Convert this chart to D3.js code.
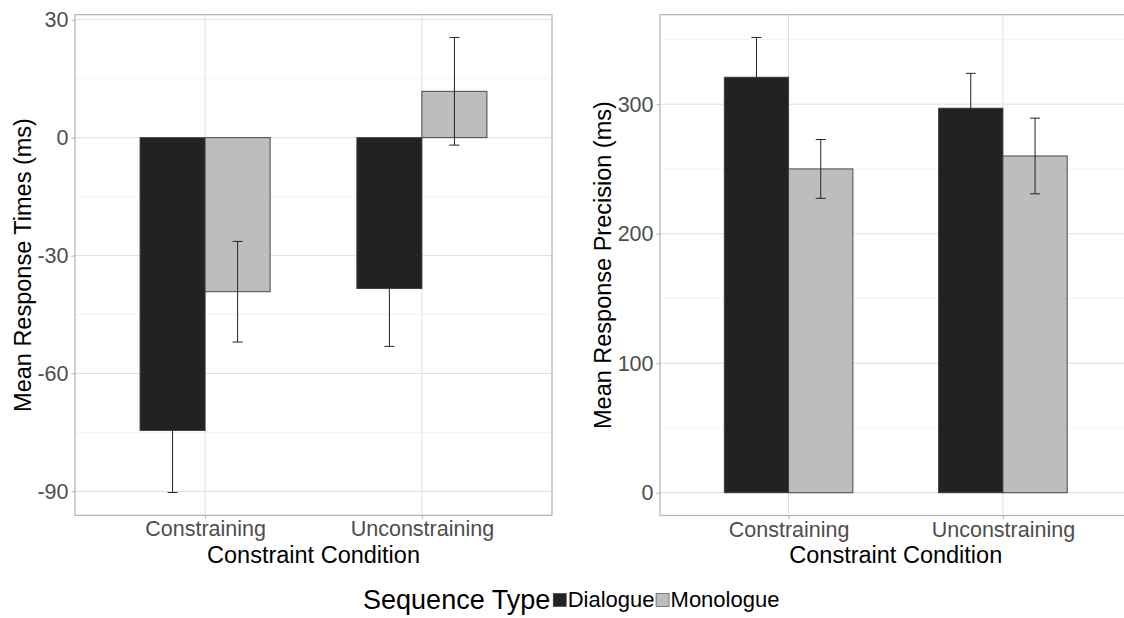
<!DOCTYPE html>
<html>
<head>
<meta charset="utf-8">
<script src="https://cdn.jsdelivr.net/npm/d3@7"></script>
<style>
  html, body { margin: 0; padding: 0; background: #ffffff; }
  svg { display: block; font-family: "Liberation Sans", Arial, Helvetica, sans-serif; }
</style>
</head>
<body>
<svg id="chart" width="1124" height="618"></svg>
<script>
// ---- data ----
const categories = ["Constraining", "Unconstraining"];
const seriesNames = ["Dialogue", "Monologue"];
const seriesColors = ["#222222", "#bdbdbd"];

// Left panel: Mean Response Times (ms)
const rtDialogue = [-74.5, -38.4];
const rtDialogueErr = [15.8, 14.7];
const rtMonologue = [-39.2, 11.8];
const rtMonologueErr = [12.8, 13.7];
const rtTicks = [-90, -60, -30, 0, 30];
const rtMinorTicks = [-75, -45, -15, 15];

// Right panel: Mean Response Precision (ms)
const precDialogue = [320.8, 296.9];
const precDialogueErr = [30.7, 26.9];
const precMonologue = [250.0, 260.0];
const precMonologueErr = [22.7, 29.2];
const precTicks = [0, 100, 200, 300];
const precMinorTicks = [50, 150, 250, 350];

const xTitle = "Constraint Condition";
const legendTitle = "Sequence Type";

// ---- drawing ----
const svg = d3.select("#chart");

function buildRows(dMeans, dErr, mMeans, mErr) {
  const rows = [];
  categories.forEach((c, i) => {
    rows.push({cat: c, series: seriesNames[0], value: dMeans[i], err: dErr[i]});
    rows.push({cat: c, series: seriesNames[1], value: mMeans[i], err: mErr[i]});
  });
  return rows;
}

function drawPanel(opts) {
  const {left, right, top, bottom, rows, ticks, minor, yTitle, yTitleX} = opts;
  const lo = d3.min(rows, r => Math.min(0, r.value - r.err));
  const hi = d3.max(rows, r => Math.max(0, r.value + r.err));
  const pad = (hi - lo) * 0.05;
  const y = d3.scaleLinear().domain([lo - pad, hi + pad]).range([bottom, top]);
  const x = d3.scalePoint().domain(categories).range([left, right]).padding(0.6);
  const step = x.step();
  const xs = d3.scaleBand().domain(seriesNames).range([-0.3 * step, 0.3 * step]).padding(0);
  const color = d3.scaleOrdinal().domain(seriesNames).range(seriesColors);

  const g = svg.append("g");

  // minor grid
  g.append("g").selectAll("line").data(minor).join("line")
    .attr("x1", left).attr("x2", right)
    .attr("y1", d => y(d)).attr("y2", d => y(d))
    .attr("stroke", "#ebebeb").attr("stroke-width", 0.6);
  // major grid y
  g.append("g").selectAll("line").data(ticks).join("line")
    .attr("x1", left).attr("x2", right)
    .attr("y1", d => y(d)).attr("y2", d => y(d))
    .attr("stroke", "#dedede").attr("stroke-width", 1);
  // major grid x
  g.append("g").selectAll("line").data(categories).join("line")
    .attr("x1", d => x(d)).attr("x2", d => x(d))
    .attr("y1", top).attr("y2", bottom)
    .attr("stroke", "#dedede").attr("stroke-width", 1);

  // bars
  g.append("g").selectAll("rect").data(rows).join("rect")
    .attr("x", d => x(d.cat) + xs(d.series))
    .attr("width", xs.bandwidth())
    .attr("y", d => Math.min(y(d.value), y(0)))
    .attr("height", d => Math.abs(y(d.value) - y(0)))
    .attr("fill", d => color(d.series))
    .attr("stroke", "#3a3a3a").attr("stroke-width", 0.9);

  // error bars
  const eb = g.append("g").selectAll("g").data(rows).join("g")
    .attr("transform", d => `translate(${x(d.cat) + xs(d.series) + xs.bandwidth() / 2},0)`);
  eb.append("line").attr("x1", 0).attr("x2", 0)
    .attr("y1", d => y(d.value + d.err)).attr("y2", d => y(d.value - d.err))
    .attr("stroke", "#222").attr("stroke-width", 1);
  eb.append("line").attr("x1", -5).attr("x2", 5)
    .attr("y1", d => y(d.value + d.err)).attr("y2", d => y(d.value + d.err))
    .attr("stroke", "#222").attr("stroke-width", 1);
  eb.append("line").attr("x1", -5).attr("x2", 5)
    .attr("y1", d => y(d.value - d.err)).attr("y2", d => y(d.value - d.err))
    .attr("stroke", "#222").attr("stroke-width", 1);

  // panel border
  g.append("rect").attr("x", left).attr("y", top)
    .attr("width", right - left).attr("height", bottom - top)
    .attr("fill", "none").attr("stroke", "#b3b3b3").attr("stroke-width", 1.2);

  // y axis
  const yAxis = d3.axisLeft(y).tickValues(ticks).tickSize(3.5).tickPadding(3)
    .tickFormat(d => String(d));
  const ya = g.append("g").attr("transform", `translate(${left},0)`).call(yAxis);
  ya.select(".domain").remove();
  ya.selectAll(".tick line").attr("stroke", "#b3b3b3");
  ya.selectAll(".tick text").attr("fill", "#4d4d4d")
    .style("font-size", "21.5px").style("font-family", "Liberation Sans, Arial, sans-serif");

  // x axis
  const xAxis = d3.axisBottom(x).tickSize(3.5).tickPadding(2);
  const xa = g.append("g").attr("transform", `translate(0,${bottom})`).call(xAxis);
  xa.select(".domain").remove();
  xa.selectAll(".tick line").attr("stroke", "#b3b3b3");
  xa.selectAll(".tick text").attr("fill", "#4d4d4d").attr("dy", null).attr("y", 21)
    .style("font-size", "21.5px").style("font-family", "Liberation Sans, Arial, sans-serif");

  // titles
  g.append("text").attr("x", (left + right) / 2).attr("y", 563)
    .attr("text-anchor", "middle").attr("fill", "#000")
    .style("font-size", "23.5px").text(xTitle);
  g.append("text")
    .attr("transform", `translate(${yTitleX},${(top + bottom) / 2}) rotate(-90)`)
    .attr("text-anchor", "middle").attr("fill", "#000")
    .style("font-size", "23.5px").text(yTitle);
}

drawPanel({
  left: 75, right: 552, top: 14.7, bottom: 515.3,
  rows: buildRows(rtDialogue, rtDialogueErr, rtMonologue, rtMonologueErr),
  ticks: rtTicks, minor: rtMinorTicks,
  yTitle: "Mean Response Times (ms)", yTitleX: 31
});

drawPanel({
  left: 660, right: 1131.5, top: 14.7, bottom: 515.5,
  rows: buildRows(precDialogue, precDialogueErr, precMonologue, precMonologueErr),
  ticks: precTicks, minor: precMinorTicks,
  yTitle: "Mean Response Precision (ms)", yTitleX: 610.5
});

// legend
const leg = svg.append("g");
const lt = leg.append("text").attr("x", 0).attr("y", 609)
  .style("font-size", "27px").attr("fill", "#000").text(legendTitle);
let cx = lt.node().getComputedTextLength() + 3;
seriesNames.forEach((s, i) => {
  leg.append("rect").attr("x", cx).attr("y", 593.5).attr("width", 13).attr("height", 13)
    .attr("fill", seriesColors[i]).attr("stroke", "#3a3a3a").attr("stroke-width", 0.6);
  cx += 14.5;
  const t = leg.append("text").attr("x", cx).attr("y", 607)
    .style("font-size", "22px").attr("fill", "#000").text(s);
  cx += t.node().getComputedTextLength() + 1.5;
});
leg.attr("transform", `translate(${572 - cx / 2},0)`);
</script>
</body>
</html>
